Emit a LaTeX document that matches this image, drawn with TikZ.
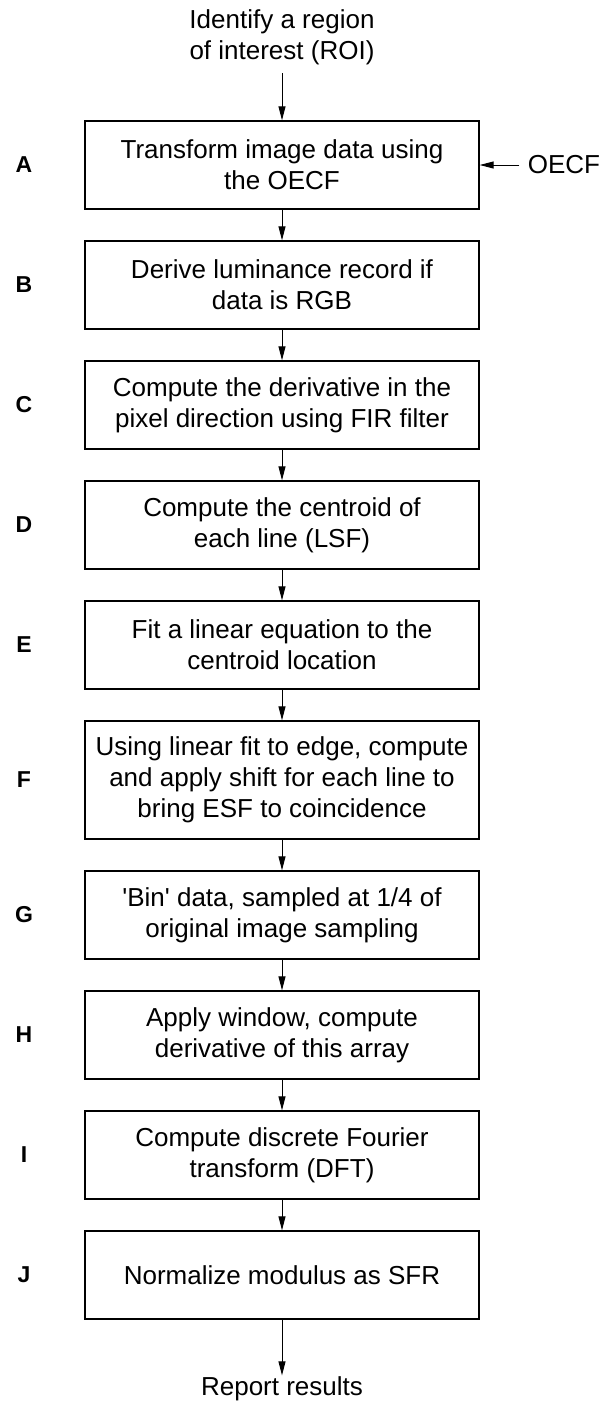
\documentclass[tikz,border=0pt]{standalone}
\usepackage{fontspec}
% a family without the TeX quote mapping, so ' stays a straight quote
\newfontfamily\rawfont{Liberation Sans}
\usetikzlibrary{arrows.meta}
\begin{document}
\begin{tikzpicture}[x=1pt,y=-1pt,
  stepbox/.style={draw, line width=1.4pt, minimum width=394pt, minimum height=88pt,
    align=center, inner sep=0pt, font=\rawfont\fontsize{26}{31}\selectfont},
  tallbox/.style={stepbox, minimum height=118pt},
  plain/.style={align=center, font=\rawfont\fontsize{26}{31}\selectfont},
  letter/.style={font=\rawfont\fontsize{23}{27}\selectfont\bfseries},
  flow/.style={line width=1pt, -{Triangle[length=14pt,width=7pt]}}]
\useasboundingbox (0,0) rectangle (603,1408);
% inputs and outputs
\node[plain] (roi) at (282,37) {Identify a region\\of interest (ROI)};
\node[plain] (oecf) at (564,165) {OECF};
\node[plain] (report) at (282,1389) {Report results};
% processing steps
\node[stepbox] (A) at (282,165) {Transform image data using\\the OECF};
\node[stepbox] (B) at (282,285) {Derive luminance record if\\data is RGB};
\node[stepbox] (C) at (282,405) {Compute the derivative in the\\pixel direction using FIR filter};
\node[stepbox] (D) at (282,525) {Compute the centroid of\\each line (LSF)};
\node[stepbox] (E) at (282,645) {Fit a linear equation to the\\centroid location};
\node[tallbox] (F) at (282,780) {Using linear fit to edge, compute\\and apply shift for each line to\\bring ESF to coincidence};
\node[stepbox] (G) at (282,915) {'Bin' data, sampled at 1/4 of\\original image sampling};
\node[stepbox] (H) at (282,1035) {Apply window, compute\\derivative of this array};
\node[stepbox] (I) at (282,1155) {Compute discrete Fourier\\transform (DFT)};
\node[stepbox] (J) at (282,1275) {Normalize modulus as SFR};
% step letters
\foreach \s/\y in {A/165,B/285,C/405,D/525,E/645,F/780,G/915,H/1035,I/1155,J/1275}
  \node[letter] (lab\s) at (24,\y) {\s};
% connectors
\draw[flow] (roi.south) ++(0,5) -- (A.north);
\draw[flow, shorten <=5pt] (oecf.west) -- (A.east);
\foreach \a/\b in {A/B,B/C,C/D,D/E,E/F,F/G,G/H,H/I,I/J}
  \draw[flow] (\a.south) -- (\b.north);
\draw[flow] (J.south) -- ([yshift=-2pt]report.north);
\end{tikzpicture}
\end{document}
